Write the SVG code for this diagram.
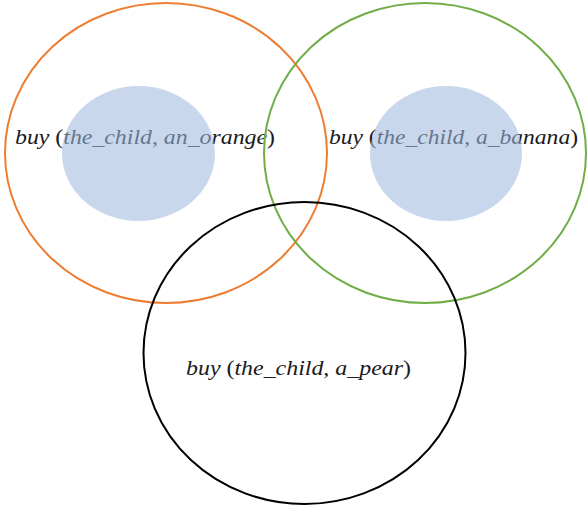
<svg xmlns="http://www.w3.org/2000/svg" width="588" height="506" viewBox="0 0 588 506">
<style>
.ring{fill:none;stroke-width:2}
.lbl{font-family:"Liberation Serif","Times New Roman",serif;font-size:22px;fill:#1a1a22}
.it{font-style:italic}
.blob{fill:#9eb8db;fill-opacity:0.57}
</style>
<rect width="588" height="506" fill="#ffffff"/>
<g id="orange">
<ellipse class="ring" cx="166" cy="153" rx="161" ry="150" stroke="#ed7d31"/>
<text class="lbl" x="15" y="144" textLength="260" lengthAdjust="spacingAndGlyphs"><tspan class="it">buy</tspan> (<tspan class="it">the_child, an_orange</tspan>)</text>
<ellipse class="blob" cx="138.5" cy="153.5" rx="76.5" ry="67.5"/>
</g>
<g id="banana">
<ellipse class="ring" cx="425" cy="153" rx="161" ry="150" stroke="#70ad47"/>
<text class="lbl" x="329" y="144" textLength="249" lengthAdjust="spacingAndGlyphs"><tspan class="it">buy</tspan> (<tspan class="it">the_child, a_banana</tspan>)</text>
<ellipse class="blob" cx="446" cy="153.5" rx="76" ry="67.5"/>
</g>
<g id="pear">
<ellipse class="ring" cx="304.5" cy="353" rx="161" ry="151" stroke="#000000"/>
<text class="lbl" x="186" y="375" textLength="225" lengthAdjust="spacingAndGlyphs"><tspan class="it">buy</tspan> (<tspan class="it">the_child, a_pear</tspan>)</text>
</g>
<g id="connectors"/>
</svg>
